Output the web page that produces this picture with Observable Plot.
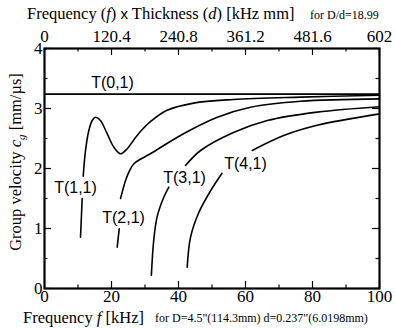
<!DOCTYPE html>
<html><head><meta charset="utf-8">
<script src="https://cdn.jsdelivr.net/npm/d3@7"></script>
<script src="https://cdn.jsdelivr.net/npm/@observablehq/plot@0.6"></script>
<style>body{margin:0;background:#fff} svg{display:block}</style>
</head><body><div id="chart"></div>
<script>
const xMajor = [0, 20, 40, 60, 80, 100];
const xMinor = [10, 30, 50, 70, 90];
const yMajor = [0, 1, 2, 3, 4];
const yMinor = [0.5, 1.5, 2.5, 3.5];
const topLabels = ["0", "120.4", "240.8", "361.2", "481.6", "602"];

const t01X = [0, 100];
const t01Y = [3.24, 3.24];
const t11X = [10.75, 11.25, NaN, 11.55, 12.24, 13.22, 14.24, 15.22, 16.7, 18.7, 20.7, 22.7, 24.7, 26.7, 28.7, 31.6, 36.6, 44.5, 56.4, 76.4, 100];
const t11Y = [0.855, 1.5, NaN, 1.87, 2.3, 2.63, 2.8, 2.855, 2.8, 2.58, 2.355, 2.245, 2.33, 2.48, 2.62, 2.78, 2.97, 3.09, 3.15, 3.19, 3.22];
const t21X = [21.7, 22.3, NaN, 22.7, 24.2, 25.2, 26.7, 31.6, 41.5, 51.6, 61.5, 76.4, 100];
const t21Y = [0.69, 0.995, NaN, 1.5, 1.8, 1.94, 2.08, 2.245, 2.58, 2.855, 3.02, 3.12, 3.16];
const t31X = [31.9, 32.6, 33.6, 35.6, 37.1, NaN, 42.1, 46.6, 56.4, 66.5, 81.4, 100];
const t31Y = [0.22, 0.8, 1.19, 1.52, 1.69, NaN, 2.05, 2.3, 2.6, 2.8, 2.94, 3.03];
const t41X = [42.6, 43.6, 46.1, 49.6, 53.0, NaN, 62.0, 71.4, 81.4, 100];
const t41Y = [0.355, 0.855, 1.27, 1.63, 1.92, NaN, 2.3, 2.55, 2.72, 2.91];

const labelText = ["T(0,1)", "T(1,1)", "T(2,1)", "T(3,1)", "T(4,1)"];
const labelX = [20.3, 9.25, 23.6, 41.8, 60];
const labelY = [3.43, 1.67, 1.17, 1.85, 2.08];

const serif = '"Liberation Serif", "Times New Roman", serif';
const sans = '"Liberation Sans", Arial, sans-serif';
const lineOpts = {stroke: "black", strokeWidth: 1.6, curve: "catmull-rom"};
const axisFont = {fontFamily: serif, fontSize: 17, label: null, tickSize: 0};

const chart = Plot.plot({
  width: 395, height: 329,
  marginLeft: 44, marginRight: 16, marginTop: 48, marginBottom: 41,
  style: `font-family: ${serif}; font-size: 17px; background: white; color: black; overflow: visible;`,
  x: {domain: [0, 100]},
  y: {domain: [0, 4]},
  marks: [
    Plot.axisX({anchor: "bottom", ticks: xMajor, tickPadding: 1, tickFormat: d => String(d), ...axisFont}),
    Plot.axisX({anchor: "top", ticks: xMajor, tickPadding: 7, ...axisFont,
      tickFormat: d => topLabels[xMajor.indexOf(d)]}),
    Plot.axisY({anchor: "left", ticks: yMajor, tickPadding: 2, tickFormat: d => String(d), ...axisFont}),
    // inward ticks bottom / top
    Plot.ruleX(xMajor, {x: d => d, y1: 0, y2: 0.117, stroke: "black", strokeWidth: 1.2}),
    Plot.ruleX(xMinor, {x: d => d, y1: 0, y2: 0.058, stroke: "black", strokeWidth: 1.2}),
    Plot.ruleX(xMajor, {x: d => d, y1: 4, y2: 4 - 0.117, stroke: "black", strokeWidth: 1.2}),
    Plot.ruleX(xMinor, {x: d => d, y1: 4, y2: 4 - 0.058, stroke: "black", strokeWidth: 1.2}),
    // inward ticks left / right
    Plot.ruleY(yMajor, {y: d => d, x1: 0, x2: 2.1, stroke: "black", strokeWidth: 1.2}),
    Plot.ruleY(yMinor, {y: d => d, x1: 0, x2: 1.05, stroke: "black", strokeWidth: 1.2}),
    Plot.ruleY(yMajor, {y: d => d, x1: 100, x2: 100 - 2.1, stroke: "black", strokeWidth: 1.2}),
    Plot.ruleY(yMinor, {y: d => d, x1: 100, x2: 100 - 1.05, stroke: "black", strokeWidth: 1.2}),
    Plot.line(t01X, {x: t01X, y: t01Y, stroke: "black", strokeWidth: 1.6}),
    Plot.line(t11X, {x: t11X, y: t11Y, ...lineOpts}),
    Plot.line(t21X, {x: t21X, y: t21Y, ...lineOpts}),
    Plot.line(t31X, {x: t31X, y: t31Y, ...lineOpts}),
    Plot.line(t41X, {x: t41X, y: t41Y, ...lineOpts}),
    Plot.text(labelText, {x: labelX, y: labelY, text: labelText, fontFamily: sans, fontSize: 16, fill: "black"}),
    Plot.frame({stroke: "black", strokeWidth: 2.2})
  ]
});

const svg = d3.select(chart);
function addText(x, y, size) {
  return svg.append("text").attr("x", x).attr("y", y).attr("text-anchor", "start")
    .attr("font-family", serif).attr("font-size", size).attr("fill", "black");
}
// top title
const tt = addText(27, 19, 16.5);
tt.append("tspan").text("Frequency (");
tt.append("tspan").attr("font-style", "italic").text("f");
tt.append("tspan").text(") ");
tt.append("tspan").attr("font-family", sans).attr("font-size", 15).text("x");
tt.append("tspan").text(" Thickness (");
tt.append("tspan").attr("font-style", "italic").text("d");
tt.append("tspan").text(") [kHz mm]");
addText(310, 19, 12).text("for D/d=18.99");
// bottom title
const bt = addText(23, 323, 16.5);
bt.append("tspan").text("Frequency ");
bt.append("tspan").attr("font-style", "italic").text("f");
bt.append("tspan").text(" [kHz]");
addText(155, 322, 12).text("for D=4.5\"(114.3mm) d=0.237\"(6.0198mm)");
// y label
const yl = svg.append("text").attr("transform", "translate(21,162) rotate(-90)")
  .attr("text-anchor", "middle").attr("font-family", serif).attr("font-size", 16.5).attr("fill", "black");
yl.append("tspan").text("Group velocity ");
yl.append("tspan").attr("font-style", "italic").text("c");
yl.append("tspan").attr("font-style", "italic").attr("font-size", 11).attr("dy", 4).text("g");
yl.append("tspan").attr("dy", -4).text(" [mm/\u00b5s]");

document.getElementById("chart").append(chart);
</script>
</body></html>
